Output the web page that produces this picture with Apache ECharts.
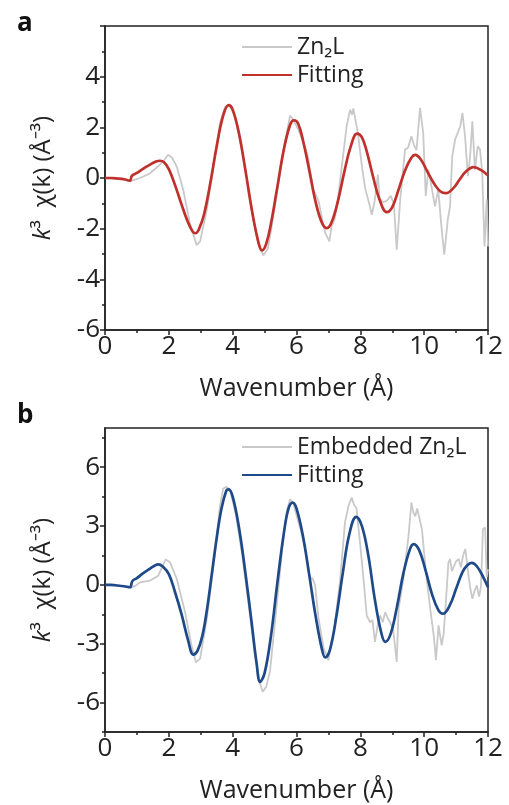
<!DOCTYPE html>
<html>
<head>
<meta charset="utf-8">
<script src="https://cdn.jsdelivr.net/npm/echarts@6/dist/echarts.min.js"></script>
<style>
  html, body { margin: 0; padding: 0; background: #fff; }
  #main { width: 509px; height: 805px; }
</style>
</head>
<body>
<div id="main"></div>
<script>
// panel a: Zn2L  [k, k3chi]
var expA = [[0,0],[0.3,-0.02],[0.6,-0.06],[0.8,-0.13],[0.9,-0.08],[1.1,0.0],[1.4,0.18],[1.7,0.5],[1.85,0.7],[1.98,0.92],[2.1,0.8],[2.25,0.45],[2.45,-0.46],[2.66,-1.78],[2.87,-2.65],[2.98,-2.5],[3.19,-1.25],[3.4,0.46],[3.6,2.17],[3.76,2.8],[3.9,2.85],[4.05,2.5],[4.2,1.7],[4.4,0.3],[4.6,-1.3],[4.8,-2.6],[4.96,-3.05],[5.1,-2.8],[5.2,-2.1],[5.4,-0.5],[5.6,1.2],[5.8,2.46],[5.9,2.3],[6.06,1.9],[6.22,1.4],[6.35,0.9],[6.53,-0.46],[6.69,-0.9],[6.8,-1.6],[6.9,-2.17],[7.03,-2.5],[7.1,-1.9],[7.2,-1.6],[7.3,-0.8],[7.42,0.46],[7.57,2.04],[7.68,2.7],[7.74,2.5],[7.78,2.75],[7.84,2.7],[7.92,1.8],[8.05,0.46],[8.15,-0.4],[8.3,-1.12],[8.36,-1.45],[8.45,-0.9],[8.55,0.13],[8.6,-0.8],[8.7,-0.95],[8.83,-0.9],[8.95,-0.7],[9.05,-1.0],[9.14,-2.83],[9.25,-0.85],[9.4,1.12],[9.5,1.2],[9.6,1.65],[9.68,1.3],[9.76,1.1],[9.87,2.77],[9.97,1.78],[10.05,-0.72],[10.13,0.33],[10.23,-0.33],[10.34,-1.12],[10.44,-0.46],[10.55,-2.04],[10.63,-3.03],[10.74,-1.64],[10.81,-1.12],[10.88,0.86],[10.97,1.52],[11.13,2.04],[11.2,2.57],[11.28,1.65],[11.37,0.07],[11.44,0.86],[11.51,2.24],[11.59,0.33],[11.68,1.25],[11.75,1.12],[11.82,0.2],[11.89,-2.7],[11.96,-0.85],[12,-2.7]];
var fitA = [[0,0],[0.2,0],[0.4,-0.02],[0.6,-0.05],[0.78,-0.1],[0.84,0.08],[1.0,0.2],[1.2,0.37],[1.4,0.52],[1.6,0.65],[1.72,0.68],[1.85,0.62],[2.0,0.35],[2.2,-0.3],[2.4,-1.05],[2.6,-1.75],[2.75,-2.12],[2.84,-2.18],[2.95,-2.0],[3.1,-1.45],[3.3,-0.2],[3.5,1.25],[3.7,2.45],[3.87,2.88],[4.0,2.7],[4.2,1.75],[4.4,0.3],[4.6,-1.25],[4.8,-2.5],[4.92,-2.86],[5.05,-2.6],[5.2,-1.8],[5.4,-0.35],[5.6,1.1],[5.8,2.1],[5.92,2.28],[6.05,2.15],[6.2,1.5],[6.4,0.3],[6.6,-0.95],[6.8,-1.78],[6.95,-1.98],[7.1,-1.75],[7.3,-0.9],[7.5,0.25],[7.7,1.25],[7.9,1.75],[8.05,1.6],[8.2,1.05],[8.4,0.05],[8.6,-0.85],[8.83,-1.35],[9.0,-1.15],[9.2,-0.45],[9.4,0.3],[9.6,0.8],[9.72,0.91],[9.9,0.72],[10.1,0.25],[10.3,-0.2],[10.5,-0.52],[10.68,-0.6],[10.9,-0.42],[11.1,-0.08],[11.3,0.25],[11.55,0.43],[11.8,0.3],[12,0.1]];

// panel b: embedded Zn2L
var expB = [[0,0],[0.3,-0.03],[0.6,-0.07],[0.8,-0.14],[0.95,-0.05],[1.1,0.13],[1.41,0.22],[1.67,0.47],[1.8,0.95],[1.9,1.3],[2.04,1.15],[2.25,0.3],[2.51,-1.4],[2.7,-3.0],[2.85,-3.95],[2.98,-3.76],[3.19,-1.73],[3.45,1.66],[3.6,4.0],[3.7,4.9],[3.8,5.0],[3.92,4.85],[4.1,3.6],[4.3,1.5],[4.5,-1.0],[4.7,-3.6],[4.85,-5.0],[4.94,-5.45],[5.05,-5.2],[5.17,-4.4],[5.35,-1.5],[5.55,1.8],[5.7,3.8],[5.8,4.37],[5.9,4.15],[6.01,3.5],[6.15,2.7],[6.27,1.83],[6.43,0.3],[6.5,0.35],[6.58,0.0],[6.69,-1.7],[6.85,-3.25],[6.95,-3.6],[7.0,-3.85],[7.08,-3.0],[7.2,-2.0],[7.37,0.3],[7.52,3.2],[7.63,4.03],[7.68,4.05],[7.73,4.45],[7.8,4.1],[7.88,3.9],[7.99,2.17],[8.1,0.3],[8.2,-1.56],[8.3,-1.9],[8.38,-1.8],[8.46,-2.91],[8.55,-2.0],[8.62,-1.56],[8.7,-1.9],[8.78,-1.39],[8.86,-1.7],[8.93,-1.9],[9.03,-2.3],[9.14,-3.93],[9.2,-1.2],[9.35,0.3],[9.46,1.83],[9.51,2.5],[9.6,4.2],[9.66,3.7],[9.72,3.5],[9.78,3.9],[9.82,3.86],[9.93,2.84],[10.0,1.6],[10.08,0.3],[10.19,-1.22],[10.3,-2.57],[10.37,-3.84],[10.45,-2.06],[10.5,-2.6],[10.55,-3.08],[10.61,-2.5],[10.66,-1.39],[10.76,1.15],[10.81,1.32],[10.87,0.7],[10.92,0.9],[11.0,1.2],[11.08,1.32],[11.15,0.9],[11.22,1.5],[11.29,1.83],[11.35,1.0],[11.39,0.47],[11.45,-0.2],[11.51,-0.71],[11.58,-0.3],[11.65,-0.03],[11.72,-0.6],[11.78,-0.1],[11.84,2.84],[11.91,2.93],[11.96,0.4],[12,0.8]];
var fitB = [[0,0],[0.2,0],[0.4,-0.03],[0.6,-0.07],[0.78,-0.12],[0.86,0.2],[1.0,0.35],[1.2,0.6],[1.4,0.82],[1.55,0.98],[1.67,1.05],[1.8,0.95],[2.0,0.55],[2.2,-0.4],[2.4,-1.5],[2.6,-2.8],[2.77,-3.55],[2.9,-3.35],[3.05,-2.6],[3.2,-1.2],[3.35,0.6],[3.5,2.4],[3.65,3.9],[3.8,4.8],[3.87,4.87],[4.0,4.5],[4.2,2.9],[4.4,0.6],[4.6,-2.0],[4.75,-4.0],[4.86,-4.94],[5.0,-4.5],[5.2,-2.6],[5.4,0.1],[5.6,2.6],[5.75,3.9],[5.88,4.2],[6.0,3.9],[6.2,2.5],[6.4,0.5],[6.6,-1.6],[6.8,-3.3],[6.9,-3.7],[7.05,-3.3],[7.25,-1.6],[7.45,0.6],[7.65,2.55],[7.87,3.47],[8.05,3.0],[8.25,1.5],[8.45,-0.7],[8.65,-2.4],[8.78,-2.9],[8.95,-2.5],[9.15,-1.1],[9.35,0.6],[9.55,1.8],[9.67,2.08],[9.85,1.75],[10.05,0.7],[10.25,-0.5],[10.45,-1.3],[10.59,-1.47],[10.8,-1.05],[11.0,-0.2],[11.2,0.65],[11.35,1.0],[11.49,1.12],[11.65,0.95],[11.85,0.4],[12,-0.12]];

var yLabelsB = [-6, -3, 0, 3, 6];
var yMinorB = [-7.5, -4.5, -1.5, 1.5, 4.5, 7.5];
var legendNames = { expA: 'Zn₂L', fitA: 'Fitting', expB: 'Embedded Zn₂L', fitB: 'Fitting' };

var FONT = '"Open Sans", sans-serif';
var INK = '#222';

function xAxisFor(gridIndex) {
    return {
        type: 'value', gridIndex: gridIndex, min: 0, max: 12, interval: 2,
        name: 'Wavenumber (Å)', nameLocation: 'middle', nameGap: 46,
        nameTextStyle: { fontFamily: FONT, fontSize: 25, color: INK },
        axisLine: { onZero: false, lineStyle: { color: INK, width: 1.5 } },
        axisTick: { inside: false, length: 5, lineStyle: { color: INK, width: 1.5 } },
        minorTick: { show: true, splitNumber: 2, length: 3, lineStyle: { color: INK, width: 1.5 } },
        axisLabel: { fontFamily: FONT, fontSize: 26, color: INK, margin: 4 },
        splitLine: { show: false }, minorSplitLine: { show: false }
    };
}
var yName = {
    name: '{i|k}{n|³  χ(k) (Å⁻³)}', nameLocation: 'middle', nameGap: 50, nameRotate: 90,
    nameTextStyle: {
        rich: {
            i: { fontFamily: FONT, fontSize: 24, color: INK, fontStyle: 'italic' },
            n: { fontFamily: FONT, fontSize: 24, color: INK }
        }
    }
};

var chart = echarts.init(document.getElementById('main'));
chart.setOption({
    animation: false,
    title: [
        { text: 'a', left: 12, top: 6, textStyle: { fontFamily: FONT, fontSize: 26, fontWeight: 'bold', color: '#111' } },
        { text: 'b', left: 12, top: 398, textStyle: { fontFamily: FONT, fontSize: 26, fontWeight: 'bold', color: '#111' } }
    ],
    grid: [
        { left: 105, top: 26, width: 383, height: 304, show: true, borderColor: INK, borderWidth: 1.5 },
        { left: 105, top: 428, width: 383, height: 304, show: true, borderColor: INK, borderWidth: 1.5 }
    ],
    legend: [
        {
            data: ['expA', 'fitA'], orient: 'vertical', left: 236, top: 30,
            itemWidth: 50, itemHeight: 14, itemGap: 4, itemStyle: { opacity: 0 },
            formatter: function (n) { return legendNames[n]; },
            textStyle: { fontFamily: FONT, fontSize: 23, color: INK, lineHeight: 24 }
        },
        {
            data: ['expB', 'fitB'], orient: 'vertical', left: 236, top: 430,
            itemWidth: 50, itemHeight: 14, itemGap: 4, itemStyle: { opacity: 0 },
            formatter: function (n) { return legendNames[n]; },
            textStyle: { fontFamily: FONT, fontSize: 23, color: INK, lineHeight: 24 }
        }
    ],
    xAxis: [xAxisFor(0), xAxisFor(1)],
    yAxis: [
        Object.assign({
            type: 'value', gridIndex: 0, min: -6, max: 6, interval: 2,
            axisLine: { onZero: false, lineStyle: { color: INK, width: 1.5 } },
            axisTick: { inside: false, length: 5, lineStyle: { color: INK, width: 1.5 } },
            minorTick: { show: true, splitNumber: 2, length: 3, lineStyle: { color: INK, width: 1.5 } },
            axisLabel: {
                fontFamily: FONT, fontSize: 26, color: INK, margin: 5,
                formatter: function (v) { return v === 6 ? '' : v; }
            },
            splitLine: { show: false }, minorSplitLine: { show: false }
        }, yName),
        Object.assign({
            type: 'value', gridIndex: 1, position: 'left', min: -7.5, max: 8,
            axisLine: { onZero: false, lineStyle: { color: INK, width: 1.5 } },
            axisTick: { inside: false, length: 5, customValues: yLabelsB, lineStyle: { color: INK, width: 1.5 } },
            axisLabel: { fontFamily: FONT, fontSize: 26, color: INK, margin: 5, customValues: yLabelsB },
            splitLine: { show: false }
        }, yName),
        {
            type: 'value', gridIndex: 1, position: 'left', min: -7.5, max: 8,
            axisLine: { show: false },
            axisTick: { inside: false, length: 3, customValues: yMinorB, lineStyle: { color: INK, width: 1.5 } },
            axisLabel: { show: false },
            splitLine: { show: false }
        }
    ],
    series: [
        { name: 'expA', type: 'line', xAxisIndex: 0, yAxisIndex: 0, data: expA, symbol: 'none',
          lineStyle: { color: '#c9c9c9', width: 1.8 }, itemStyle: { color: '#c9c9c9' } },
        { name: 'fitA', type: 'line', xAxisIndex: 0, yAxisIndex: 0, data: fitA, symbol: 'none', smooth: 0.4,
          lineStyle: { color: '#c0302c', width: 2.7 }, itemStyle: { color: '#c0302c' } },
        { name: 'expB', type: 'line', xAxisIndex: 1, yAxisIndex: 1, data: expB, symbol: 'none',
          lineStyle: { color: '#c9c9c9', width: 1.8 }, itemStyle: { color: '#c9c9c9' } },
        { name: 'fitB', type: 'line', xAxisIndex: 1, yAxisIndex: 1, data: fitB, symbol: 'none', smooth: 0.4,
          lineStyle: { color: '#1f4a8a', width: 2.7 }, itemStyle: { color: '#1f4a8a' } }
    ]
});
</script>
</body>
</html>
